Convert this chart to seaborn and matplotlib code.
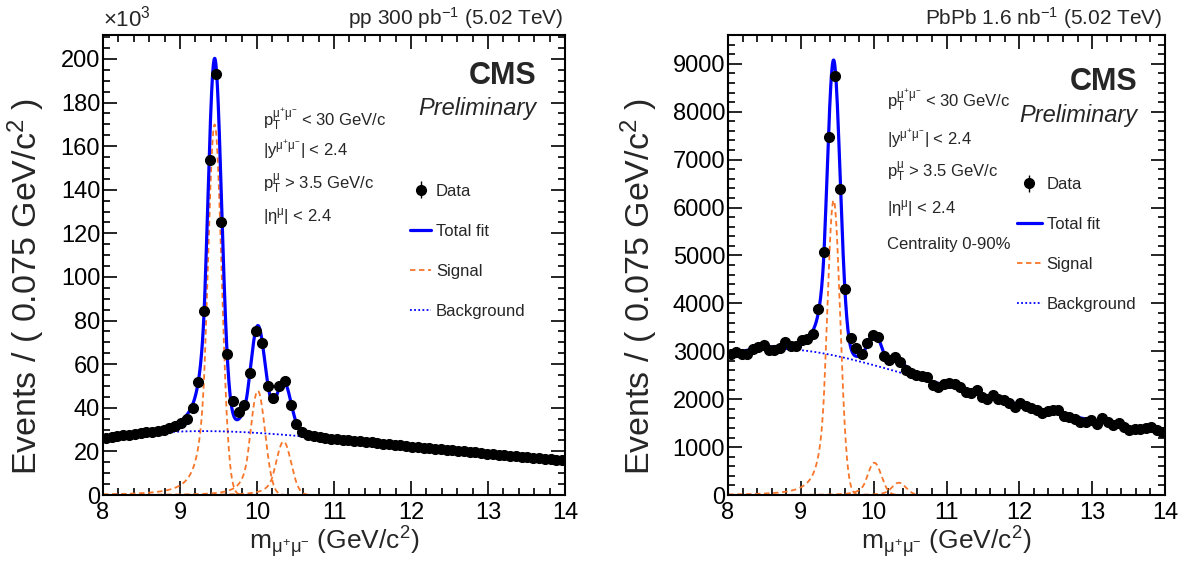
import math
import numpy as np
import matplotlib
matplotlib.use('Agg')
import matplotlib.pyplot as plt
import seaborn as sns
from matplotlib.ticker import MultipleLocator

# dimuon mass binning: 80 bins of 0.075 GeV from 8 to 14 GeV
bin_low = 8.0
bin_width = 0.075
n_bins = 80

# pp data, events per bin in units of 10^3
pp_events_k = [26.0, 26.5, 26.9, 27.3, 27.6, 28.0, 28.3, 28.7, 29.1, 29.5,
               30.0, 30.6, 31.5, 33.0, 35.0, 40.0, 52.0, 84.5, 153.5, 193.0,
               125.0, 64.5, 43.0, 38.0, 41.5, 56.0, 75.0, 69.5, 50.0, 44.5,
               50.0, 52.5, 41.5, 32.5, 29.0, 27.5, 27.0, 26.5, 26.2, 25.9,
               25.6, 25.4, 25.1, 24.9, 24.6, 24.4, 24.1, 23.8, 23.6, 23.3,
               23.1, 22.8, 22.5, 22.2, 22.0, 21.7, 21.5, 21.2, 21.0, 20.7,
               20.5, 20.2, 20.0, 19.8, 19.5, 19.3, 19.0, 18.8, 18.5, 18.3,
               18.0, 17.8, 17.6, 17.3, 17.1, 16.9, 16.6, 16.4, 16.2, 16.0]

# PbPb data, events per bin
pbpb_events = [2950, 2985, 2940, 2950, 3055, 3090, 3125, 3035, 3035, 3075,
               3195, 3120, 3105, 3230, 3250, 3355, 3890, 5070, 7470, 8750,
               6380, 4290, 3280, 3060, 2950, 3170, 3330, 3300, 2900, 2820,
               2880, 2780, 2610, 2540, 2500, 2480, 2460, 2300, 2260, 2310,
               2330, 2320, 2260, 2160, 2120, 2190, 2050, 2010, 2080, 2010,
               1980, 1910, 1840, 1910, 1860, 1810, 1770, 1720, 1750, 1770,
               1770, 1650, 1620, 1580, 1530, 1530, 1560, 1490, 1600, 1530,
               1460, 1510, 1420, 1360, 1370, 1370, 1400, 1420, 1350, 1320]

# fit results: Upsilon(1S, 2S, 3S) crystal-ball peaks
peak_mass = [9.45, 10.01, 10.345]
peak_width = [0.090, 0.095, 0.098]
cb_alpha = 1.4
cb_n = 2.3
pp_peak_height_k = [170.0, 47.8, 24.5]
pbpb_peak_height = [6150, 673, 256]

# background: exponential times error-function turn-on (norm given at 12 GeV)
pp_bkg = dict(norm=22.2, slope=6.4, turn_mean=7.54, turn_width=2.25)
pbpb_bkg = dict(norm=1890, slope=5.2, turn_mean=7.2, turn_width=2.0)

erf = np.vectorize(math.erf)


def crystal_ball(m, mean, width):
    t = (m - mean) / width
    a = (cb_n / cb_alpha) ** cb_n * np.exp(-cb_alpha ** 2 / 2)
    b = cb_n / cb_alpha - cb_alpha
    tail = a * np.abs(b - t) ** (-cb_n)
    return np.where(t > -cb_alpha, np.exp(-t ** 2 / 2), tail)


def background(m, norm, slope, turn_mean, turn_width):
    turn_on = 0.5 * (1 + erf((m - turn_mean) / turn_width))
    return norm * np.exp(-(m - 12.0) / slope) * turn_on


plt.rcParams['mathtext.fontset'] = 'custom'
plt.rcParams['mathtext.rm'] = 'Liberation Sans'
plt.rcParams['mathtext.it'] = 'Liberation Sans:italic'
plt.rcParams['mathtext.bf'] = 'Liberation Sans:bold'
sns.set_style('ticks')
plt.rcParams['font.family'] = ['Liberation Sans', 'DejaVu Sans']

mass = bin_low + bin_width * (np.arange(n_bins) + 0.5)
m_fine = np.linspace(8.0, 14.0, 1200)

BLUE = '#0000ff'
ORANGE = '#f7762a'

fig = plt.figure(figsize=(11.92, 5.64), dpi=100)
ax_pp = fig.add_axes([103 / 1192, 69 / 564, 462 / 1192, 460 / 564])
ax_pb = fig.add_axes([728 / 1192, 69 / 564, 437 / 1192, 460 / 564])

panels = [
    (ax_pp, np.array(pp_events_k), np.sqrt(np.array(pp_events_k) * 1e3) / 1e3,
     pp_peak_height_k, pp_bkg, 211, 20, 5),
    (ax_pb, np.array(pbpb_events, float), np.sqrt(np.array(pbpb_events, float)),
     pbpb_peak_height, pbpb_bkg, 9600, 1000, 200),
]

legend_spots = {id(ax_pp): ((0.664, 0.677), 1.3), id(ax_pb): ((0.661, 0.691), 1.5)}

for ax, counts, errs, heights, bkg_pars, ytop, ymaj, ymin in panels:
    bkg = background(m_fine, **bkg_pars)
    signals = [h * crystal_ball(m_fine, mu, s)
               for h, mu, s in zip(heights, peak_mass, peak_width)]
    total = bkg + sum(signals)

    for k, sig in enumerate(signals):
        sns.lineplot(x=m_fine, y=sig, ax=ax, color=ORANGE, lw=1.3,
                     linestyle=(0, (3, 2)), label='Signal' if k == 0 else None,
                     zorder=2)
    sns.lineplot(x=m_fine, y=bkg, ax=ax, color=BLUE, lw=1.3,
                 linestyle=(0, (1, 1.3)), label='Background', zorder=2)
    sns.lineplot(x=m_fine, y=total, ax=ax, color=BLUE, lw=2.3,
                 label='Total fit', zorder=3)
    ax.errorbar(mass, counts, yerr=errs, fmt='o', color='black', ms=7,
                elinewidth=1.0, capsize=0, label='Data', zorder=4)

    ax.set_xlim(8, 14)
    ax.set_ylim(0, ytop)
    ax.xaxis.set_major_locator(MultipleLocator(1))
    ax.xaxis.set_minor_locator(MultipleLocator(0.2))
    ax.yaxis.set_major_locator(MultipleLocator(ymaj))
    ax.yaxis.set_minor_locator(MultipleLocator(ymin))
    ax.tick_params(which='both', direction='in', top=True, right=True,
                   labelsize=17, width=1.2, colors='black')
    ax.tick_params(which='major', length=10)
    ax.tick_params(which='minor', length=5)
    ax.tick_params(axis='y', pad=2)
    ax.tick_params(axis='x', pad=5)
    for sp in ax.spines.values():
        sp.set_linewidth(1.5)
        sp.set_color('black')

    ax.set_xlabel(r'm$_{\mathregular{\mu^{+}\mu^{-}}}$ (GeV/c$^{2}$)', fontsize=19)
    ax.set_ylabel(r'Events / ( 0.075 GeV/c$^{2}$ )', fontsize=24.5)

    handles, labels = ax.get_legend_handles_labels()
    order = ['Data', 'Total fit', 'Signal', 'Background']
    hl = {l: h for h, l in zip(handles, labels)}
    anchor, hlen = legend_spots[id(ax)]
    ax.legend([hl[o] for o in order], order, loc='upper left',
              bbox_to_anchor=anchor, frameon=False, fontsize=12,
              labelspacing=1.5, handlelength=hlen, handletextpad=0.28,
              borderpad=0, borderaxespad=0)

# axis label placement
ax_pp.yaxis.set_label_coords(-0.121, 0.453)
ax_pb.yaxis.set_label_coords(-0.156, 0.453)
ax_pp.xaxis.set_label_coords(0.5, -0.063)
ax_pb.xaxis.set_label_coords(0.5, -0.063)

cut_lines = [r'$\mathregular{p_{T}^{\mu^{+}\mu^{-}}}$ < 30 GeV/c',
             r'$\mathregular{|y^{\mu^{+}\mu^{-}}|}$ < 2.4',
             r'$\mathregular{p_{T}^{\mu}}$ > 3.5 GeV/c',
             r'$\mathregular{|\eta^{\mu}|}$ < 2.4',
             'Centrality 0-90%']

for txt, fy in zip(cut_lines[:4], [0.804, 0.737, 0.665, 0.596]):
    ax_pp.text(0.346, fy, txt, transform=ax_pp.transAxes, fontsize=12,
               va='baseline', ha='left')
for txt, fy in zip(cut_lines, [0.844, 0.762, 0.692, 0.612, 0.535]):
    ax_pb.text(0.364, fy, txt, transform=ax_pb.transAxes, fontsize=12,
               va='baseline', ha='left')

for ax, fx, fy_cms, fy_pre in [(ax_pp, 0.939, 0.8935, 0.826),
                               (ax_pb, 0.936, 0.880, 0.8115)]:
    ax.text(fx, fy_cms, 'CMS', transform=ax.transAxes, fontsize=22,
            fontweight='bold', ha='right', va='baseline')
    ax.text(fx, fy_pre, 'Preliminary', transform=ax.transAxes, fontsize=17,
            fontstyle='italic', ha='right', va='baseline')

ax_pp.text(0.996, 1.022, r'pp 300 pb$^{-1}$ (5.02 TeV)', transform=ax_pp.transAxes,
           fontsize=15, ha='right', va='baseline')
ax_pb.text(0.995, 1.022, r'PbPb 1.6 nb$^{-1}$ (5.02 TeV)', transform=ax_pb.transAxes,
           fontsize=15, ha='right', va='baseline')
ax_pp.text(0.0, 1.018, r'$\times$10$^{3}$', transform=ax_pp.transAxes,
           fontsize=16, ha='left', va='baseline')

fig.savefig('out.png', dpi=100, facecolor='white')
